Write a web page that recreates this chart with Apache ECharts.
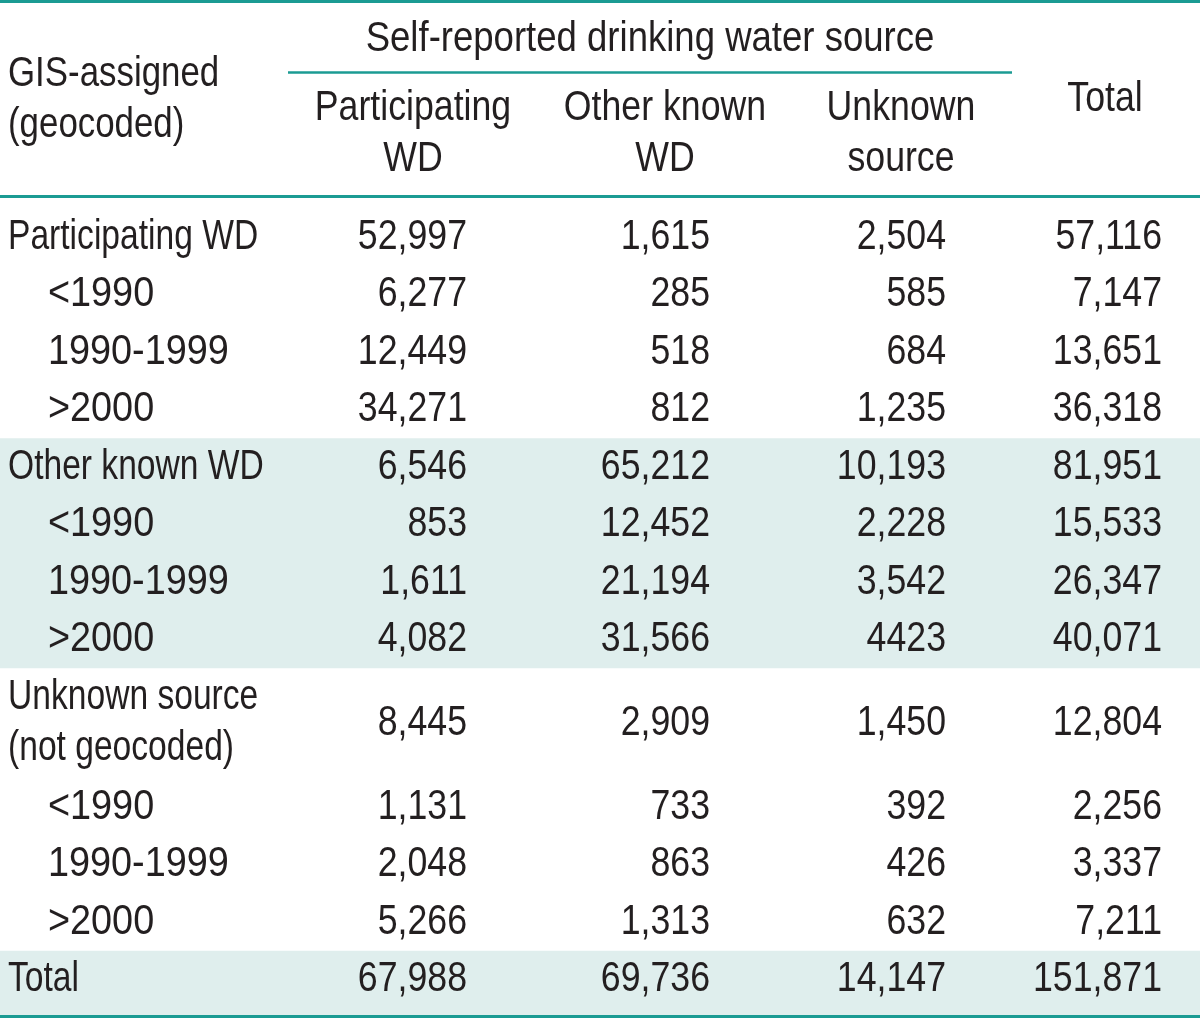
<!DOCTYPE html>
<html>
<head>
<meta charset="utf-8">
<script src="https://cdn.jsdelivr.net/npm/echarts@6/dist/echarts.min.js"></script>
<style>
html,body{margin:0;padding:0;background:#fff;}
#chart{width:1200px;height:1018px;}
</style>
</head>
<body>
<div id="chart"></div>
<script>
// ---------- DATA ----------
const spanHeader = 'Self-reported drinking water source';
const stubHeader = 'GIS-assigned\n(geocoded)';
const columnHeaders = ['Participating\nWD', 'Other known\nWD', 'Unknown\nsource', 'Total'];
const rowLabels = ['Participating WD', '<1990', '1990-1999', '>2000',
  'Other known WD', '<1990', '1990-1999', '>2000',
  'Unknown source\n(not geocoded)', '<1990', '1990-1999', '>2000', 'Total'];
const rowIndented = [false, true, true, true, false, true, true, true, false, true, true, true, false];
const participatingWD = ['52,997', '6,277', '12,449', '34,271', '6,546', '853', '1,611', '4,082', '8,445', '1,131', '2,048', '5,266', '67,988'];
const otherKnownWD = ['1,615', '285', '518', '812', '65,212', '12,452', '21,194', '31,566', '2,909', '733', '863', '1,313', '69,736'];
const unknownSource = ['2,504', '585', '684', '1,235', '10,193', '2,228', '3,542', '4423', '1,450', '392', '426', '632', '14,147'];
const totals = ['57,116', '7,147', '13,651', '36,318', '81,951', '15,533', '26,347', '40,071', '12,804', '2,256', '3,337', '7,211', '151,871'];

// ---------- LAYOUT / STYLE ----------
const W = 1200, H = 1018;
const TEAL = '#1b9b93';
const SHADE = '#dfeeed';
const INK = '#231f20';
const FONT = '"Liberation Sans", Arial, sans-serif';
const FS = 42;
const ROWLABEL_SCALE = 0.80, YEAR_SCALE = 0.90, HEAD_SCALE = 0.85, SPAN_SCALE = 0.87, NUM_SCALE = 0.85;
const colRight = [467, 710, 946, 1162];
const colCenter = [413, 665, 901, 1105];
const stubX = 8, indent = 40;
const bodyTop = 208.25, rowH = 57.5, twoLineRowH = 110;
const shadedGroups = [[4, 7], [12, 12]];

const columns = [participatingWD, otherKnownWD, unknownSource, totals];

// row geometry (axis units equal pixels on a full-size grid)
const rowTop = [], rowCen = [], rowBot = [];
(function () {
  let y = bodyTop;
  rowLabels.forEach(l => {
    const h = l.indexOf('\n') >= 0 ? twoLineRowH : rowH;
    rowTop.push(y); rowCen.push(y + h / 2); y += h; rowBot.push(y);
  });
})();

// ---------- cells ----------
const cells = [];
cells.push({x: 650, y: 39, text: spanHeader, align: 'center', scale: SPAN_SCALE});
cells.push({x: stubX, y: 99.5, text: stubHeader, align: 'left', scale: 0.83});
columnHeaders.forEach((t, i) => {
  const two = t.indexOf('\n') >= 0;
  cells.push({x: colCenter[i], y: two ? 134 : 99, text: t, align: 'center', scale: HEAD_SCALE});
});
rowLabels.forEach((l, r) => {
  const isYear = /^[<>0-9]/.test(l);
  cells.push({x: stubX + (rowIndented[r] ? indent : 0), y: rowCen[r], text: l, align: 'left',
    scale: isYear ? YEAR_SCALE : ROWLABEL_SCALE});
  columns.forEach((col, c) => {
    cells.push({x: colRight[c], y: rowCen[r], text: col[r], align: 'right', scale: NUM_SCALE});
  });
});

// shading bands (contiguous groups)
const bands = shadedGroups.map(g => {
  const bottom = g[1] === rowLabels.length - 1 ? 1015 : rowBot[g[1]];
  return [0, rowTop[g[0]], W, bottom];
});

// rules
const rules = [
  [0, 1.5, W, 3],
  [288, 72.5, 1012, 2.5],
  [0, 196.5, W, 3],
  [0, 1016.5, W, 3]
];

const chart = echarts.init(document.getElementById('chart'), null, {renderer: 'canvas'});
chart.setOption({
  animation: false,
  backgroundColor: '#ffffff',
  grid: {left: 0, right: 0, top: 0, bottom: 0},
  xAxis: {type: 'value', min: 0, max: W, show: false},
  yAxis: {type: 'value', min: 0, max: H, inverse: true, show: false},
  series: [
    {
      type: 'custom', silent: true, z: 1,
      data: bands,
      renderItem: function (params, api) {
        const p0 = api.coord([api.value(0), api.value(1)]);
        const p1 = api.coord([api.value(2), api.value(3)]);
        return {type: 'rect', shape: {x: p0[0], y: p0[1], width: p1[0] - p0[0], height: p1[1] - p0[1]}, style: {fill: SHADE}};
      }
    },
    {
      type: 'custom', silent: true, z: 2,
      data: rules,
      renderItem: function (params, api) {
        const p0 = api.coord([api.value(0), api.value(1)]);
        const p1 = api.coord([api.value(2), api.value(1)]);
        return {type: 'line', shape: {x1: p0[0], y1: p0[1], x2: p1[0], y2: p1[1]}, style: {stroke: TEAL, lineWidth: api.value(3)}};
      }
    },
    {
      type: 'custom', silent: true, z: 3,
      data: cells.map((c, i) => [c.x, c.y, i]),
      renderItem: function (params, api) {
        const c = cells[api.value(2)];
        const p = api.coord([api.value(0), api.value(1)]);
        return {
          type: 'text', x: p[0], y: p[1], scaleX: c.scale, scaleY: 1,
          style: {
            text: c.text, fill: INK, fontFamily: FONT, fontSize: FS,
            align: c.align, verticalAlign: 'middle', lineHeight: 51
          }
        };
      }
    }
  ]
});
</script>
</body>
</html>
